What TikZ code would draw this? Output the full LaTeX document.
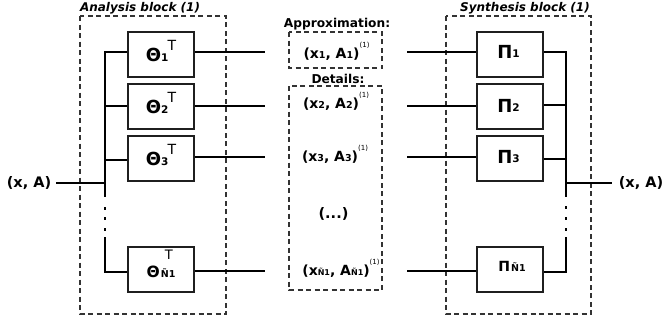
\documentclass[tikz,border=0pt]{standalone}
\usepackage{fontspec}
\setmainfont{DejaVu Sans}
\usetikzlibrary{calc}
\newcommand{\lo}[3]{\raisebox{#2}{\fontsize{#1}{#1}\selectfont #3}}
\begin{document}
\begin{tikzpicture}[x=1pt,y=-1pt,
  blk/.style={draw=black!88, line width=2pt, minimum width=66pt, minimum height=45pt, inner sep=0pt},
  wire/.style={line width=2pt, black},
  dbox/.style={draw=black!80, line width=1.1pt, dash pattern=on 5pt off 3.5pt},
  ttl/.style={font=\fontsize{12}{12}\selectfont\bfseries\itshape, anchor=base, inner sep=0pt},
  lbl/.style={anchor=base, inner sep=0pt, font=\bfseries},
  hdr/.style={anchor=base, inner sep=0pt, font=\fontsize{12.2}{12.2}\selectfont\bfseries},
  dotm/.style={black}
]
\useasboundingbox (0,0) rectangle (665,324);

% dashed frames
\draw[dbox] (80,16) rectangle (226,314);
\draw[dbox] (446,16) rectangle (591,314);
\draw[dbox] (289,32) rectangle (382,68);
\draw[dbox] (289,86) rectangle (382,290);

% titles
\node[ttl] (tA) at (140,11) {Analysis block (1)};
\node[ttl] (tS) at (525,11) {Synthesis block (1)};
\node[hdr] (tAp) at (337,27.5) {Approximation:};
\node[hdr] (tDe) at (338,83) {Details:};

% analysis boxes
\node[blk] (t1) at (161,54) {};
\node[blk] (t2) at (161,106.5) {};
\node[blk] (t3) at (161,158.5) {};
\node[blk] (tn) at (161,269.5) {};
\node[lbl] (lt1) at ($(t1.center)+(0,7)$) {\fontsize{18}{18}\selectfont Θ\lo{10.5}{0pt}{1}\kern-1pt\lo{14}{11pt}{\mdseries T}};
\node[lbl] (lt2) at ($(t2.center)+(0,7)$) {\fontsize{18}{18}\selectfont Θ\lo{10.5}{0pt}{2}\kern-1pt\lo{14}{11pt}{\mdseries T}};
\node[lbl] (lt3) at ($(t3.center)+(0,7)$) {\fontsize{18}{18}\selectfont Θ\lo{10.5}{0pt}{3}\kern-1pt\lo{14}{11pt}{\mdseries T}};
\node[lbl] (ltn) at ($(tn.center)+(0,7.5)$) {\fontsize{15.5}{15.5}\selectfont Θ\rlap{\kern5pt\lo{13}{18pt}{\mdseries T}}\kern1pt\lo{9.5}{0pt}{Ñ1}};

% synthesis boxes
\node[blk] (p1) at (510,54) {};
\node[blk] (p2) at (510,106.5) {};
\node[blk] (p3) at (510,158.5) {};
\node[blk] (pn) at (510,269) {};
\node[lbl] (lp1) at (508.5,58) {\fontsize{18}{18}\selectfont Π\lo{10.5}{1pt}{1}};
\node[lbl] (lp2) at (508.5,112.5) {\fontsize{18}{18}\selectfont Π\lo{10.5}{1pt}{2}};
\node[lbl] (lp3) at (508.5,163) {\fontsize{18}{18}\selectfont Π\lo{10.5}{1pt}{3}};
\node[lbl] (lpn) at (512,271) {\fontsize{14}{14}\selectfont Π\kern1pt\lo{9.5}{-0.5pt}{Ñ1}};

% middle coefficient labels
\node[lbl] (m1) at (336.5,58) {\fontsize{14}{14}\selectfont (x\lo{9.5}{-0.5pt}{1}, A\lo{9.5}{-0.5pt}{1})\lo{7}{10.5pt}{\mdseries(1)}};
\node[lbl] (m2) at (336,108) {\fontsize{14}{14}\selectfont (x\lo{9.5}{-0.5pt}{2}, A\lo{9.5}{-0.5pt}{2})\lo{7}{10.5pt}{\mdseries(1)}};
\node[lbl] (m3) at (335,161) {\fontsize{14}{14}\selectfont (x\lo{9.5}{-0.5pt}{3}, A\lo{9.5}{-0.5pt}{3})\lo{7}{10.5pt}{\mdseries(1)}};
\node[lbl] (md) at (333.5,218) {\fontsize{14.5}{14.5}\selectfont (...)};
\node[lbl] (mn) at (341,275) {\fontsize{14}{14}\selectfont (x\lo{8}{-0.5pt}{Ñ1}, A\lo{8}{-0.5pt}{Ñ1})\lo{7}{10.5pt}{\mdseries(1)}};

% input / output labels
\node[lbl, font=\fontsize{14.5}{14.5}\selectfont\bfseries] (inL) at (29,187.5) {(x, A)};
\node[lbl, font=\fontsize{14.5}{14.5}\selectfont\bfseries] (outR) at (641,187.5) {(x, A)};

% left bus
\coordinate (lb1) at (105,52);
\coordinate (lb2) at (105,106);
\coordinate (lb3) at (105,160);
\coordinate (lbe) at (105,197);
\coordinate (lbs) at (105,237);
\coordinate (lbn) at (105,272);
\coordinate (jl) at (105,183);
\draw[wire] (t1.west |- lb1) -- (lb1) -- (lbe);
\draw[wire] (lbs) -- (lbn) -- (lbn -| tn.west);
\draw[wire] (lb2) -- (lb2 -| t2.west);
\draw[wire] (lb3) -- (lb3 -| t3.west);
\draw[wire, shorten <=5pt] (inL.east) -- (inL.east -| jl);
\foreach \yy in {208,218,229} \fill[dotm] (104,\yy-1.5) rectangle (106,\yy+1.5);

% analysis outputs
\coordinate (o1) at (265,52);
\coordinate (o2) at (265,105.5);
\coordinate (o3) at (265,157);
\coordinate (on) at (265,271);
\draw[wire] (t1.east |- o1) -- (o1);
\draw[wire] (t2.east |- o2) -- (o2);
\draw[wire] (t3.east |- o3) -- (o3);
\draw[wire] (tn.east |- on) -- (on);

% synthesis inputs
\coordinate (i1) at (407,52);
\coordinate (i2) at (407,105.5);
\coordinate (i3) at (407,157);
\coordinate (in) at (407,271);
\draw[wire] (i1) -- (i1 -| p1.west);
\draw[wire] (i2) -- (i2 -| p2.west);
\draw[wire] (i3) -- (i3 -| p3.west);
\draw[wire] (in) -- (in -| pn.west);

% right bus
\coordinate (rb1) at (566,52);
\coordinate (rb2) at (566,105);
\coordinate (rb3) at (566,159);
\coordinate (rbe) at (566,197);
\coordinate (rbs) at (566,237);
\coordinate (rbn) at (566,272);
\coordinate (jr) at (566,183);
\draw[wire] (p1.east |- rb1) -- (rb1) -- (rbe);
\draw[wire] (rbs) -- (rbn) -- (rbn -| pn.east);
\draw[wire] (p2.east |- rb2) -- (rb2);
\draw[wire] (p3.east |- rb3) -- (rb3);
\draw[wire, shorten >=7pt] (jr) -- (jr -| outR.west);
\foreach \yy in {207,218,229} \fill[dotm] (565,\yy-1.5) rectangle (567,\yy+1.5);
\end{tikzpicture}
\end{document}
